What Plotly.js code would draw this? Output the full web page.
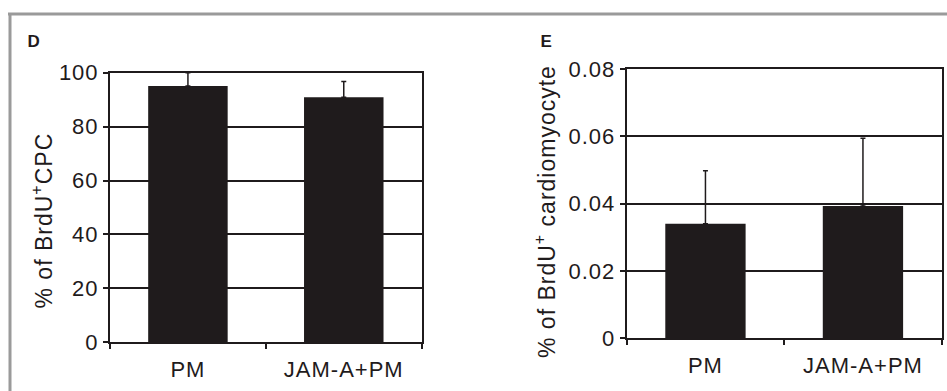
<!DOCTYPE html>
<html>
<head>
<meta charset="utf-8">
<script src="https://cdn.plot.ly/plotly-3.0.1.min.js"></script>
<style>
html,body{margin:0;padding:0;background:#fff;}
#chart{width:947px;height:391px;}
#chart .main-svg text{letter-spacing:1px;}
</style>
</head>
<body>
<div id="chart"></div>
<script>
const categories = ["PM", "JAM-A+PM"];
const cpcValues = [95.1, 90.9];
const cpcErrors = [4.9, 5.8];
const cmValues = [0.034, 0.0393];
const cmErrors = [0.0158, 0.0201];
const cpcTicks = [0, 20, 40, 60, 80, 100];
const cmTicks = [0, 0.02, 0.04, 0.06, 0.08];
const cmTickLabels = ["0", "0.02", "0.04", "0.06", "0.08"];

const ink = "#1f1b1c";
const family = "Liberation Sans, Arial, sans-serif";
const tickFont = {family: family, size: 22, color: ink};
const titleFont = {family: family, size: 23, color: ink};

const barStyle = {color: ink, line: {width: 0}};
const errStyle = {type: "data", symmetric: false, arrayminus: [0, 0], color: ink, thickness: 1.5, width: 2.5};

const traces = [
  {type: "bar", x: categories, y: cpcValues, xaxis: "x", yaxis: "y", marker: barStyle,
   error_y: Object.assign({}, errStyle, {array: cpcErrors}), hoverinfo: "x+y"},
  {type: "bar", x: categories, y: cmValues, xaxis: "x2", yaxis: "y2", marker: barStyle,
   error_y: Object.assign({}, errStyle, {array: cmErrors}), hoverinfo: "x+y"}
];

const xBase = {type: "category", showgrid: false, showline: true, linecolor: ink, linewidth: 2,
  mirror: true, ticks: "outside", tickson: "boundaries", ticklen: 5, tickwidth: 2, tickcolor: ink,
  tickfont: tickFont, ticklabelstandoff: 6, fixedrange: true};
const yBase = {showgrid: true, gridcolor: ink, gridwidth: 2, showline: true, linecolor: ink, linewidth: 2,
  mirror: true, ticks: "outside", ticklen: 5, tickwidth: 2, tickcolor: ink, tickfont: tickFont,
  zeroline: false, fixedrange: true, tickmode: "array"};

const layout = {
  width: 947, height: 391,
  margin: {l: 0, r: 0, t: 0, b: 0},
  paper_bgcolor: "#fff", plot_bgcolor: "#fff",
  showlegend: false, bargap: 0.49,
  font: tickFont,
  xaxis: Object.assign({}, xBase, {domain: [110/947, 421.7/947], anchor: "y"}),
  yaxis: Object.assign({}, yBase, {domain: [(391-342.3)/391, (391-72.7)/391], anchor: "x",
    range: [0, 100], tickvals: cpcTicks, ticktext: cpcTicks.map(String)}),
  xaxis2: Object.assign({}, xBase, {domain: [626.7/947, 941.7/947], anchor: "y2"}),
  yaxis2: Object.assign({}, yBase, {domain: [(391-338.3)/391, (391-69)/391], anchor: "x2",
    range: [0, 0.08], tickvals: cmTicks, ticktext: cmTickLabels}),
  annotations: [
    {text: "<b>D</b>", xref: "paper", yref: "paper", x: 26/947, y: 1-41/391, xanchor: "left", yanchor: "middle",
     showarrow: false, font: {family: family, size: 17, color: ink}},
    {text: "<b>E</b>", xref: "paper", yref: "paper", x: 539/947, y: 1-41/391, xanchor: "left", yanchor: "middle",
     showarrow: false, font: {family: family, size: 17, color: ink}},
    {text: "% of BrdU<sup>+</sup>CPC", xref: "paper", yref: "paper", x: 42/947, y: 1-221/391,
     xanchor: "center", yanchor: "middle", textangle: -90, showarrow: false, font: titleFont},
    {text: "% of BrdU<sup>+</sup> cardiomyocyte", xref: "paper", yref: "paper", x: 545/947, y: 1-212/391,
     xanchor: "center", yanchor: "middle", textangle: -90, showarrow: false, font: titleFont}
  ],
  shapes: [
    {type: "line", xref: "paper", yref: "paper", x0: 8/947, x1: 1, y0: 1-14/391, y1: 1-14/391,
     line: {color: "#9a9a9a", width: 3}},
    {type: "line", xref: "paper", yref: "paper", x0: 10/947, x1: 10/947, y0: 0, y1: 1-13/391,
     line: {color: "#9a9a9a", width: 3}}
  ]
};

Plotly.newPlot("chart", traces, layout, {displayModeBar: false, staticPlot: true});
</script>
</body>
</html>
